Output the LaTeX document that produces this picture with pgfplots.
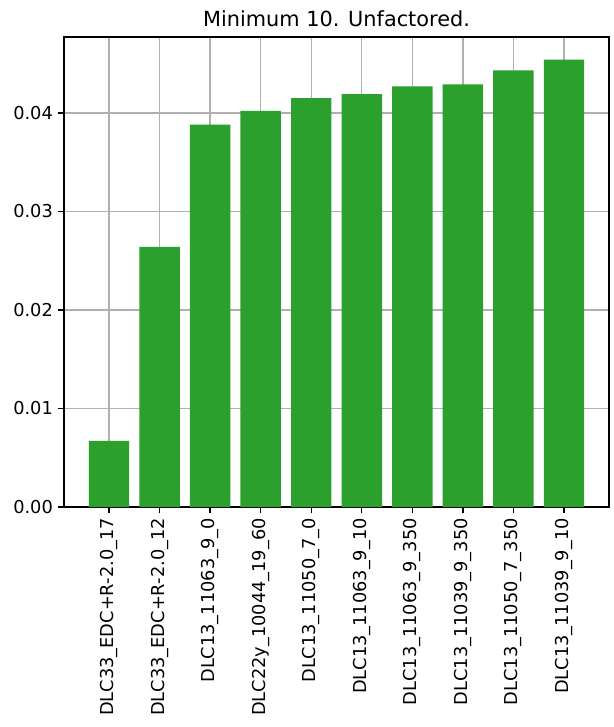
\documentclass[border=0pt]{standalone}
\usepackage{pgfplots}
\pgfplotsset{compat=1.18}
\usepackage{fontspec}
\setmainfont{DejaVu Sans}
\definecolor{mplgreen}{HTML}{2CA02C}
\definecolor{gridgray}{HTML}{B0B0B0}
\begin{document}
\begin{tikzpicture}
\begin{axis}[
  scale only axis,
  width=392.4pt, height=338.4pt,
  xmin=-0.89, xmax=9.89,
  ymin=0, ymax=0.0477,
  xtick={0,...,9},
  xticklabels={DLC33\_EDC+R-2.0\_17,DLC33\_EDC+R-2.0\_12,DLC13\_11063\_9\_0,DLC22y\_10044\_19\_60,DLC13\_11050\_7\_0,DLC13\_11063\_9\_10,DLC13\_11063\_9\_350,DLC13\_11039\_9\_350,DLC13\_11050\_7\_350,DLC13\_11039\_9\_10},
  xticklabel style={rotate=90, anchor=east, font=\fontsize{12.8}{15}\selectfont},
  ytick={0,0.01,0.02,0.03,0.04},
  yticklabel style={font=\fontsize{12.8}{15}\selectfont, /pgf/number format/fixed, /pgf/number format/fixed zerofill, /pgf/number format/precision=2},
  /pgf/number format/assume math mode=true,
  scaled y ticks=false,
  tick align=outside,
  tick pos=left,
  major tick length=4.5pt,
  major tick style={line width=1pt, black},
  grid=major,
  grid style={color=gridgray, line width=1pt},
  axis line style={line width=1pt},
  title={Minimum 10. Unfactored.},
  title style={font=\fontsize{15}{18}\selectfont, yshift=-2pt},
]
\addplot[ybar, bar width=0.8, fill=mplgreen, draw=none, bar shift=0pt] coordinates {
(0,0.0067) (1,0.0264) (2,0.0388) (3,0.0402) (4,0.0415) (5,0.0419) (6,0.0427) (7,0.0429) (8,0.0443) (9,0.0454)};
\end{axis}
\pgfresetboundingbox
\path (-46.08pt,-158.4pt) rectangle (395.28pt,365.04pt);
\end{tikzpicture}
\end{document}
